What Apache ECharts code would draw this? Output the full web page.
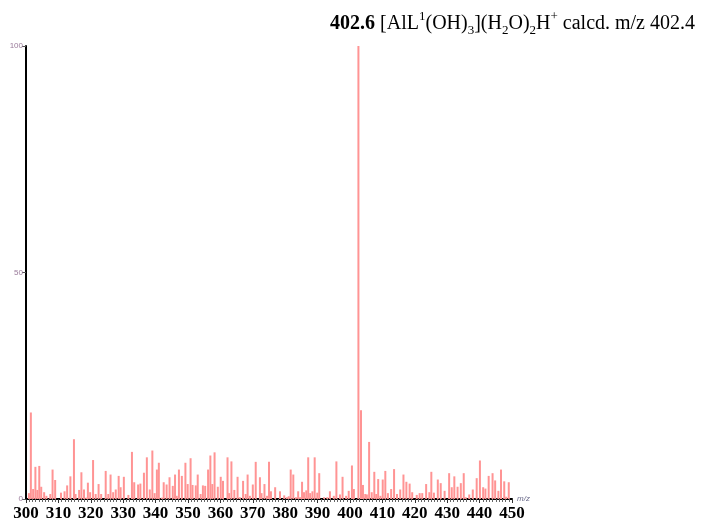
<!DOCTYPE html>
<html>
<head>
<meta charset="utf-8">
<script src="https://cdn.jsdelivr.net/npm/echarts@6/dist/echarts.min.js"></script>
<style>
  html, body { margin: 0; padding: 0; background: #ffffff; }
  #chart { width: 704px; height: 525px; }
</style>
</head>
<body>
<div id="chart"></div>
<script>
// ESI-MS spectrum, m/z 300-450, relative intensity (%)
const xTicks = [300, 310, 320, 330, 340, 350, 360, 370, 380, 390, 400, 410, 420, 430, 440, 450];
const yTicks = [0, 50, 100];

const mz = [
  300.9, 301.5, 302.2, 302.9, 303.5, 304.1, 304.7, 305.6, 306.3, 307.5,
  308.2, 309.0, 310.8, 311.9, 312.7, 313.7, 314.8, 315.3, 316.4, 317.1,
  317.9, 318.6, 319.1, 319.8, 320.7, 321.5, 322.4, 323.2, 324.6, 325.4,
  326.1, 326.9, 327.7, 328.6, 329.2, 330.2, 331.6, 332.7, 333.4, 334.6,
  335.3, 336.4, 337.3, 338.2, 339.0, 339.7, 340.4, 341.0, 341.9, 342.5,
  343.4, 344.3, 345.3, 346.0, 346.5, 347.2, 348.1, 349.2, 349.9, 350.8,
  351.4, 352.4, 353.0, 353.9, 354.6, 355.3, 356.2, 356.9, 357.5, 358.2,
  359.2, 360.1, 360.8, 362.2, 362.7, 363.4, 364.3, 365.3, 366.0, 367.0,
  367.8, 368.4, 369.1, 370.0, 370.9, 372.2, 372.7, 373.6, 374.4, 375.0,
  375.6, 376.9, 378.4, 379.7, 380.5, 381.1, 381.7, 382.5, 383.3, 384.0,
  384.6, 385.2, 385.8, 386.5, 387.1, 387.7, 388.4, 389.1, 389.9, 390.5,
  392.0, 393.0, 393.8, 395.0, 395.8, 396.9, 397.7, 398.8, 399.6, 400.6,
  401.2, 402.6, 403.4, 404.0, 404.7, 405.2, 405.9, 406.7, 407.5, 408.1,
  408.7, 409.4, 410.1, 410.9, 411.7, 412.7, 413.6, 414.5, 415.5, 416.5,
  417.4, 418.4, 419.2, 420.6, 421.5, 422.3, 423.5, 424.5, 425.1, 425.9,
  427.1, 428.0, 429.2, 430.6, 431.4, 432.2, 433.2, 434.2, 435.1, 435.7,
  436.8, 437.9, 439.1, 440.1, 441.1, 441.8, 442.8, 444.0, 444.8, 445.8,
  446.6, 447.6, 448.2, 449.0
];

const intensity = [
  1.3, 19.1, 2.2, 7.1, 2.0, 7.3, 2.7, 1.5, 0.7, 1.1,
  6.5, 4.2, 1.4, 1.7, 3.0, 5.0, 13.2, 1.1, 2.0, 5.9,
  2.1, 0.3, 3.6, 1.5, 8.6, 1.1, 3.3, 1.1, 6.2, 1.1,
  5.4, 1.5, 2.1, 5.1, 2.6, 4.9, 0.9, 10.4, 3.7, 3.2,
  3.4, 5.8, 9.2, 2.1, 10.7, 1.3, 6.5, 8.0, 0.3, 3.7,
  3.2, 4.8, 2.9, 5.4, 0.7, 6.5, 5.1, 8.0, 3.3, 9.0,
  3.1, 3.0, 5.4, 1.1, 3.0, 2.9, 6.5, 9.6, 3.3, 10.3,
  2.7, 4.9, 4.0, 9.2, 1.3, 8.3, 2.0, 4.9, 0.4, 4.0,
  1.1, 5.4, 0.7, 3.2, 8.2, 4.8, 1.3, 3.3, 0.7, 8.2,
  1.7, 2.6, 1.7, 0.8, 0.4, 0.6, 6.5, 5.4, 0.4, 1.7,
  0.4, 3.8, 1.5, 1.9, 9.2, 1.3, 1.7, 9.2, 1.4, 5.7,
  0.4, 0.4, 1.7, 0.7, 8.3, 1.0, 4.9, 0.7, 1.8, 7.4,
  2.2, 100, 19.6, 3.1, 1.1, 1.0, 12.6, 1.5, 6.0, 1.1,
  4.4, 0.7, 4.3, 6.2, 1.3, 2.2, 6.6, 1.1, 2.1, 5.4,
  3.8, 3.4, 1.5, 0.9, 1.3, 1.3, 3.3, 1.5, 6.0, 1.4,
  4.3, 3.5, 1.8, 5.7, 2.6, 5.0, 2.7, 3.5, 5.7, 0.4,
  1.0, 2.1, 4.6, 8.5, 2.6, 2.3, 5.1, 5.7, 4.1, 1.8,
  6.5, 3.9, 0.5, 3.7
];

const chart = echarts.init(document.getElementById('chart'), null, { renderer: 'canvas' });

const peaks = mz.map((m, i) => [m, intensity[i]]);

const serif = 'Liberation Serif';

chart.setOption({
  animation: false,
  backgroundColor: '#ffffff',
  title: {
    text: '{b|402.6} {n|[AlL}{sup|1}{n|(OH)}{sub|3}{n|](H}{sub|2}{n|O)}{sub|2}{n|H}{sup|+}{n| calcd. m/z 402.4}',
    right: 4,
    top: 5,
    textStyle: {
      fontWeight: 'normal',
      rich: {
        b: { fontFamily: serif, fontWeight: 'bold', fontSize: 20, color: '#000', lineHeight: 27 },
        n: { fontFamily: serif, fontWeight: 'normal', fontSize: 20, color: '#000', lineHeight: 27 },
        sup: { fontFamily: serif, fontWeight: 'normal', fontSize: 13, color: '#000', lineHeight: 18, verticalAlign: 'top' },
        sub: { fontFamily: serif, fontWeight: 'normal', fontSize: 13, color: '#000', lineHeight: 16, verticalAlign: 'bottom' }
      }
    }
  },
  grid: { left: 26, right: 192, top: 46, bottom: 26, containLabel: false },
  xAxis: {
    type: 'value',
    min: xTicks[0],
    max: xTicks[xTicks.length - 1],
    interval: 10,
    name: 'm/z',
    nameLocation: 'end',
    nameGap: 5,
    nameTextStyle: { fontFamily: 'Liberation Sans', fontStyle: 'italic', fontSize: 8, color: '#6a6a8a', verticalAlign: 'middle' },
    axisLine: { show: true, lineStyle: { color: '#000', width: 2 } },
    axisTick: { show: true, length: 4, lineStyle: { color: '#333', width: 1 } },
    minorTick: { show: true, splitNumber: 10, length: 3, lineStyle: { color: '#666', width: 1 } },
    splitLine: { show: false },
    axisLabel: {
      margin: 6,
      fontFamily: serif,
      fontWeight: 'bold',
      fontSize: 17,
      color: '#000',
      customValues: xTicks
    }
  },
  yAxis: {
    type: 'value',
    min: yTicks[0],
    max: yTicks[yTicks.length - 1],
    interval: 50,
    axisLine: { show: true, lineStyle: { color: '#000', width: 2 } },
    axisTick: { show: true, length: 4, lineStyle: { color: '#555', width: 1 } },
    splitLine: { show: false },
    axisLabel: {
      margin: 3,
      fontFamily: 'Liberation Sans',
      fontSize: 8,
      color: '#9a7a9a'
    }
  },
  series: [{
    type: 'bar',
    data: peaks,
    barWidth: 2,
    itemStyle: { color: '#ff9494' }
  }]
});
</script>
</body>
</html>
